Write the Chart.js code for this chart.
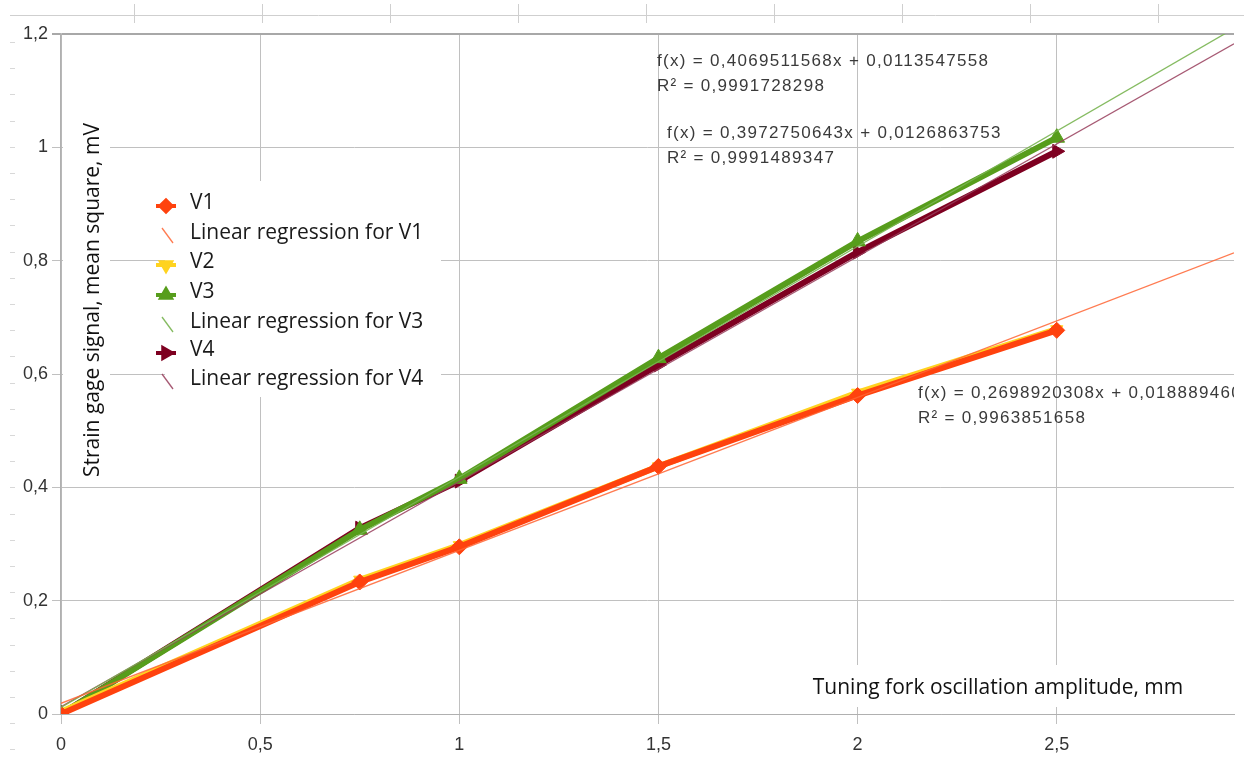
<!DOCTYPE html>
<html><head><meta charset="utf-8">
<script src="https://cdn.jsdelivr.net/npm/chart.js@4.4.1/dist/chart.umd.min.js"></script>
<style>html,body{margin:0;padding:0;background:#fff;overflow:hidden}#wrap{width:1244px;height:757px;position:relative}</style>
</head><body><div id="wrap"><canvas id="c" width="1244" height="757"></canvas></div>
<script>
// ---- data ----
const xValues = [0, 0.75, 1, 1.5, 2, 2.5];
const v1 = [0, 0.233, 0.295, 0.437, 0.562, 0.677];
const v2 = [0.004, 0.237, 0.298, 0.437, 0.567, 0.679];
const v3 = [0, 0.325, 0.415, 0.628, 0.834, 1.017];
const v4 = [0, 0.328, 0.411, 0.616, 0.815, 0.993];
const trendX = [0, 2.945];
const trendV1 = [0.0189, 0.8137];
const trendV3 = [0.0114, 1.2098];
const trendV4 = [0.0127, 1.1827];
const xTicks = [0, 0.5, 1, 1.5, 2, 2.5];
const yTicks = [0, 0.2, 0.4, 0.6, 0.8, 1, 1.2];
const legendLabels = ['V1', 'Linear regression for V1', 'V2', 'V3', 'Linear regression for V3', 'V4', 'Linear regression for V4'];
const eqV3 = ['f(x) = 0,4069511568x + 0,0113547558', 'R² = 0,9991728298'];
const eqV4 = ['f(x) = 0,3972750643x + 0,0126863753', 'R² = 0,9991489347'];
const eqV1 = ['f(x) = 0,2698920308x + 0,0188894603', 'R² = 0,9963851658'];
const xTitle = 'Tuning fork oscillation amplitude, mm';
const yTitle = 'Strain gage signal, mean square, mV';

const pts = (xs, ys) => xs.map((x, i) => ({x, y: ys[i]}));
const fmt = v => String(+v.toFixed(3)).replace('.', ',');

const C1 = '#ff420e', C2 = '#ffd320', C3 = '#579d1c', C4 = '#7e0021';

const dataSet = (label, data, color, style, rot, order, r) => ({
  label, data, borderColor: color, backgroundColor: color, showLine: true,
  borderWidth: 6, pointStyle: style, rotation: rot, pointRadius: r, pointBorderWidth: 1,
  pointBorderColor: color, pointBackgroundColor: color, order, tension: 0
});
const trendSet = (label, data, color) => ({
  label, data, borderColor: color, backgroundColor: color, showLine: true,
  borderWidth: 1.3, pointRadius: 0, order: 0, clip: 0
});

const datasets = [
  dataSet('V1', pts(xValues, v1), C1, 'rectRot', 0, 1, 8),
  trendSet('Linear regression for V1', pts(trendX, trendV1), 'rgba(255,100,50,0.85)'),
  dataSet('V2', pts(xValues, v2), C2, 'triangle', 180, 2, 7),
  dataSet('V3', pts(xValues, v3), C3, 'triangle', 0, 3, 9),
  trendSet('Linear regression for V3', pts(trendX, trendV3), 'rgba(120,180,80,0.9)'),
  dataSet('V4', pts(xValues, v4), C4, 'triangle', 90, 4, 8),
  trendSet('Linear regression for V4', pts(trendX, trendV4), 'rgba(150,60,90,0.85)')
];

const decoPlugin = {
  id: 'deco',
  beforeDraw(chart) {
    const ctx = chart.ctx;
    ctx.save();
    ctx.strokeStyle = '#cfcfcf'; ctx.lineWidth = 1;
    ctx.beginPath(); ctx.moveTo(10, 15.5); ctx.lineTo(1244, 15.5); ctx.stroke();
    for (let x = 134; x < 1244; x += 128) { ctx.beginPath(); ctx.moveTo(x + 0.5, 4); ctx.lineTo(x + 0.5, 23); ctx.stroke(); }
    ctx.strokeStyle = '#d8d8d8';
    for (let y = 42; y < 757; y += 26.2) { ctx.beginPath(); ctx.moveTo(10, Math.round(y) + 0.5); ctx.lineTo(15, Math.round(y) + 0.5); ctx.stroke(); }
    ctx.restore();
  },
  beforeDatasetsDraw(chart) {
    const ctx = chart.ctx;
    ctx.save();
    ctx.fillStyle = '#fff';
    ctx.fillRect(63, 118, 47, 364);
    ctx.fillRect(165, 181, 276, 216);
    ctx.fillRect(800, 665, 400, 42);
    // axis titles
    ctx.fillStyle = '#111';
    ctx.font = '21px "Open Sans"';
    ctx.textAlign = 'center'; ctx.textBaseline = 'middle';
    ctx.fillText(xTitle, 998, 688);
    ctx.translate(93, 300); ctx.rotate(-Math.PI / 2);
    ctx.fillText(yTitle, 0, 0);
    ctx.restore();
    // legend
    ctx.save();
    const rows = [203, 233, 262, 292, 322, 350, 379];
    chart.data.datasets.forEach((ds, i) => {
      const y = rows[i];
      if (ds.pointRadius > 0) {
        ctx.strokeStyle = ds.borderColor; ctx.lineWidth = 4;
        ctx.beginPath(); ctx.moveTo(156, y + 3); ctx.lineTo(176, y + 3); ctx.stroke();
        Chart.helpers.drawPoint(ctx, {pointStyle: ds.pointStyle, rotation: ds.rotation, radius: 5.5, borderWidth: 1}, 166, y + 3);
        ctx.fillStyle = ds.borderColor;
        ctx.fill();
      } else {
        ctx.strokeStyle = ds.borderColor; ctx.lineWidth = 1.3;
        ctx.beginPath(); ctx.moveTo(162, y - 5); ctx.lineTo(173, y + 10); ctx.stroke();
      }
      ctx.fillStyle = '#1a1a1a';
      ctx.font = '21px "Open Sans"';
      ctx.textAlign = 'left'; ctx.textBaseline = 'middle';
      ctx.fillText(legendLabels[i], 190, y);
    });
    ctx.restore();
  },
  afterDatasetsDraw(chart) {
    const ctx = chart.ctx, a = chart.chartArea;
    ctx.save();
    ctx.beginPath(); ctx.rect(a.left, a.top, a.right - a.left, a.bottom - a.top); ctx.clip();
    ctx.fillStyle = '#3a3a3a';
    ctx.font = '17px "Liberation Sans"';
    ctx.letterSpacing = '1.3px';
    ctx.textAlign = 'left'; ctx.textBaseline = 'middle';
    const put = (lines, x, y) => { ctx.fillText(lines[0], x, y); ctx.fillText(lines[1], x, y + 25); };
    put(eqV3, 657, 61);
    put(eqV4, 667, 133);
    put(eqV1, 918, 393);
    ctx.restore();
  }
};

new Chart(document.getElementById('c'), {
  type: 'scatter',
  data: { datasets },
  options: {
    responsive: false, animation: false, devicePixelRatio: 1,
    layout: { padding: { top: 34, right: 10, left: 0, bottom: 0 } },
    plugins: { legend: { display: false }, tooltip: { enabled: false } },
    scales: {
      x: {
        type: 'linear', min: 0, max: 2.945,
        afterBuildTicks: s => { s.ticks = xTicks.map(v => ({value: v})); },
        afterFit: s => { s.height = 43; },
        grid: { color: '#c0c0c0', lineWidth: 1, tickLength: 10 },
        border: { color: '#b0b0b0', width: 1 },
        ticks: { color: '#333', font: { family: 'Liberation Sans', size: 18 }, padding: 10, callback: v => fmt(v), maxRotation: 0, autoSkip: false }
      },
      y: {
        type: 'linear', min: 0, max: 1.2,
        afterBuildTicks: s => { s.ticks = yTicks.map(v => ({value: v})); },
        afterFit: s => { s.width = 61; },
        grid: {
          color: c => (c.tick && c.tick.value === 1.2) ? '#a8a8a8' : '#c0c0c0',
          lineWidth: c => (c.tick && c.tick.value === 1.2) ? 2 : 1, tickLength: 9
        },
        border: { color: '#b0b0b0', width: 1.5 },
        ticks: { color: '#333', font: { family: 'Liberation Sans', size: 18 }, padding: 4, callback: v => fmt(v), autoSkip: false }
      }
    }
  },
  plugins: [decoPlugin]
});
</script></body></html>
